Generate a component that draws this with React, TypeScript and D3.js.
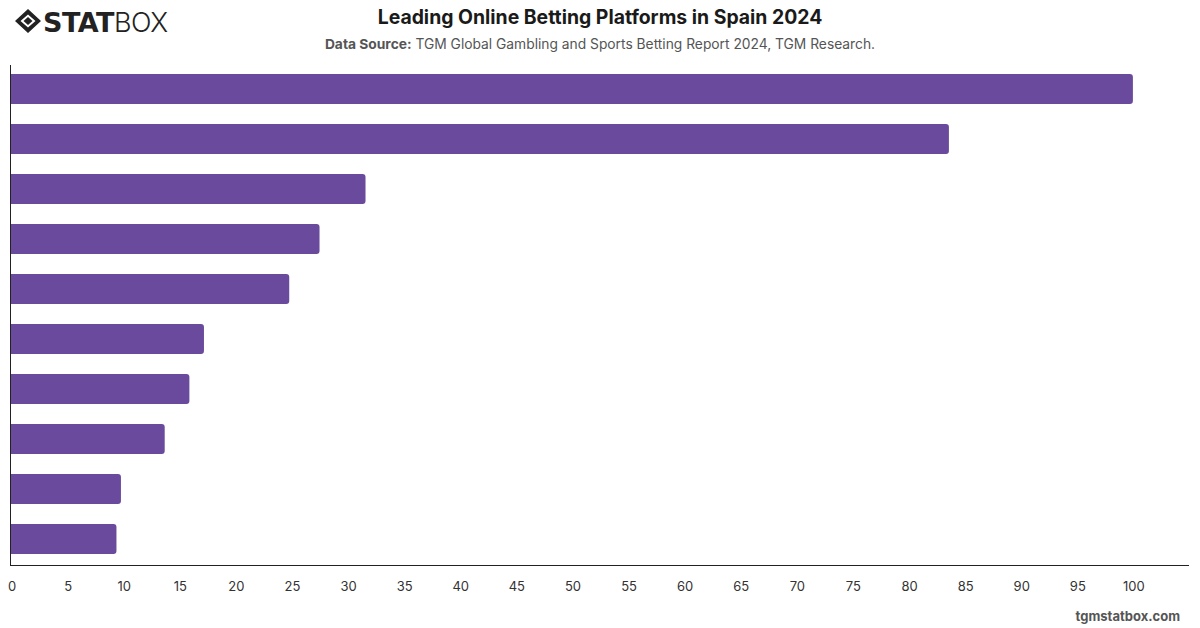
import * as d3 from 'd3';
import { useEffect, useRef } from 'react';

// platform shares, top to bottom (category names are not shown on the chart)
const platforms = ['P1', 'P2', 'P3', 'P4', 'P5', 'P6', 'P7', 'P8', 'P9', 'P10'];
const shares = [100, 83.6, 31.6, 27.5, 24.8, 17.2, 15.9, 13.7, 9.8, 9.4];
const xTicks = [0, 5, 10, 15, 20, 25, 30, 35, 40, 45, 50, 55, 60, 65, 70, 75, 80, 85, 90, 95, 100];

const title = 'Leading Online Betting Platforms in Spain 2024';
const sourceLabel = 'Data Source:';
const sourceText = ' TGM Global Gambling and Sports Betting Report 2024, TGM Research.';

const WIDTH = 1200;
const HEIGHT = 628;
const FONT = "Inter, 'Helvetica Neue', Arial, sans-serif";

function App() {
  const svgElement = useRef<SVGSVGElement | null>(null);

  useEffect(() => {
    const svg = d3.select(svgElement.current);
    svg.selectAll('*').remove();

    const left = 11;
    const right = 1189;
    const top = 65;
    const bottom = 565;

    const x = d3.scaleLinear().domain([0, 105]).range([left, right]);
    const y = d3.scaleBand().domain(platforms).range([top, bottom]).paddingInner(0.4).paddingOuter(0.2);

    const data = platforms.map((name, i) => ({ name, value: shares[i] }));

    // Bars with rounded right end
    const r = 3;
    svg
      .append('g')
      .selectAll('path')
      .data(data)
      .join('path')
      .attr('fill', '#6A4A9C')
      .attr('d', (d) => {
        const x0 = x(0);
        const x1 = x(d.value);
        const y0 = (y(d.name) ?? 0) - 1;
        const h = y.bandwidth();
        return `M${x0},${y0}H${x1 - r}Q${x1},${y0} ${x1},${y0 + r}V${y0 + h - r}Q${x1},${y0 + h} ${x1 - r},${y0 + h}H${x0}Z`;
      });

    // Axes lines
    svg
      .append('line')
      .attr('x1', left - 0.5)
      .attr('x2', left - 0.5)
      .attr('y1', top)
      .attr('y2', bottom)
      .attr('stroke', '#222')
      .attr('stroke-width', 1);

    const xAxis = svg
      .append('g')
      .attr('transform', `translate(0, ${bottom})`)
      .call(d3.axisBottom(x).tickValues(xTicks).tickSize(0).tickPadding(17).tickSizeOuter(0));
    xAxis.select('.domain').attr('stroke', '#222').attr('d', `M${left - 1},0.5H${right}`);
    xAxis
      .selectAll('text')
      .attr('font-family', FONT)
      .attr('font-size', 13)
      .attr('fill', '#333')
      .attr('dx', 0.5);

    // Title and source
    svg
      .append('text')
      .attr('x', 600)
      .attr('y', 24)
      .attr('text-anchor', 'middle')
      .attr('font-family', FONT)
      .attr('font-size', 19.4)
      .attr('font-weight', 700)
      .attr('fill', '#1a1a1a')
      .text(title);

    const src = svg
      .append('text')
      .attr('x', 600)
      .attr('y', 49)
      .attr('text-anchor', 'middle')
      .attr('font-family', FONT)
      .attr('font-size', 13.8)
      .attr('fill', '#555');
    src.append('tspan').attr('font-weight', 700).text(sourceLabel);
    src.append('tspan').text(sourceText);

    // Watermark
    svg
      .append('text')
      .attr('x', 1180)
      .attr('y', 621)
      .attr('text-anchor', 'end')
      .attr('font-family', FONT)
      .attr('font-size', 13)
      .attr('font-weight', 700)
      .attr('fill', '#555')
      .text('tgmstatbox.com');

    // Logo: diamond mark + STATBOX wordmark
    const logo = svg.append('g').attr('transform', 'translate(28, 21)');
    logo
      .append('path')
      .attr('d', 'M0,-12L13,0L0,12L-13,0Z M0,-6.5L-7.5,0L0,6.5L7.5,0Z')
      .attr('fill', '#222')
      .attr('fill-rule', 'evenodd');
    logo
      .append('path')
      .attr('d', 'M0,-4L-4.5,0L0,4L4.5,0Z')
      .attr('fill', '#222');
    const word = svg
      .append('text')
      .attr('x', 43)
      .attr('y', 32)
      .attr('font-family', "'DejaVu Sans', Arial, sans-serif")
      .attr('font-size', 27)
      .attr('fill', '#222')
      .attr('letter-spacing', -0.5);
    word.append('tspan').attr('font-weight', 900).attr('font-family', "Arial Black, 'DejaVu Sans', sans-serif").text('STAT');
    word.append('tspan').attr('font-weight', 300).attr('font-family', "Inter, 'Noto Sans', sans-serif").text('BOX');
  }, []);

  return (
    <svg
      ref={svgElement}
      width={WIDTH}
      height={HEIGHT}
      style={{ position: 'absolute', left: 0, top: 0, background: '#fff' }}
    />
  );
}

export default App;
